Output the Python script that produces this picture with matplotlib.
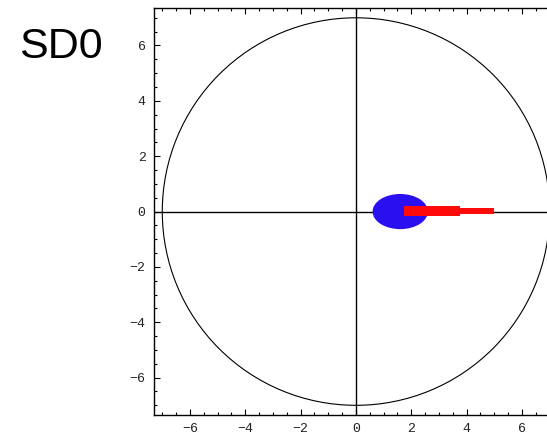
import numpy as np
import matplotlib
matplotlib.use("Agg")
import matplotlib.pyplot as plt
from matplotlib.patches import Circle, Ellipse, Polygon
from matplotlib.ticker import MultipleLocator

# Data
circle_radius = 7.0
ellipse_center = (1.6, 0.0)
ellipse_size = (2.0, 1.27)  # full width, full height
# red bar drawn as two overlapping segments: (x0, x1, y_low, y_high)
bar_segments = [
    (1.75, 3.75, -0.17, 0.19),
    (3.75, 5.0, -0.09, 0.14),
]
x_ticks = [-6, -4, -2, 0, 2, 4, 6]
y_ticks = [-6, -4, -2, 0, 2, 4, 6]
label = "SD0"

fig = plt.figure(figsize=(5.47, 4.38), dpi=100)
ax = fig.add_axes([0.2815, 0.0525, 0.7385, 0.929])

ax.set_xlim(-7.3, 7.3)
ax.set_ylim(-7.35, 7.35)

# crosshair axes
ax.axhline(0, color="black", lw=1.0, zorder=1)
ax.axvline(0, color="black", lw=1.0, zorder=1)

ax.add_patch(Circle((0, 0), circle_radius, fill=False, ec="black", lw=0.8))
ax.add_patch(Ellipse(ellipse_center, ellipse_size[0], ellipse_size[1],
                     fc="#2a10f0", ec="none", zorder=2))
for x0, x1, ylo, yhi in bar_segments:
    ax.add_patch(Polygon([(x0, ylo), (x1, ylo), (x1, yhi), (x0, yhi)],
                         closed=True, fc="#ff0a0a", ec="none", zorder=3))

ax.set_xticks(x_ticks)
ax.set_yticks(y_ticks)
ax.xaxis.set_minor_locator(MultipleLocator(0.5))
ax.yaxis.set_minor_locator(MultipleLocator(0.5))
ax.tick_params(which="both", direction="in", top=True, right=True,
               labelsize=9.5, pad=6, width=0.8)
ax.tick_params(which="major", length=4)
ax.tick_params(which="minor", length=2)

fmt = plt.FuncFormatter(lambda v, p: f"{int(v)}".replace("-", "\u2212"))
ax.xaxis.set_major_formatter(fmt)
ax.yaxis.set_major_formatter(fmt)
for t in ax.get_xticklabels() + ax.get_yticklabels():
    t.set_family("Liberation Mono")
    t.set_color("#222222")

for s in ax.spines.values():
    s.set_linewidth(1.0)

fig.text(61 / 547, 1 - 47 / 438, label, fontsize=31, family="Liberation Sans",
         ha="center", va="center")

fig.savefig("out.png", dpi=100)
